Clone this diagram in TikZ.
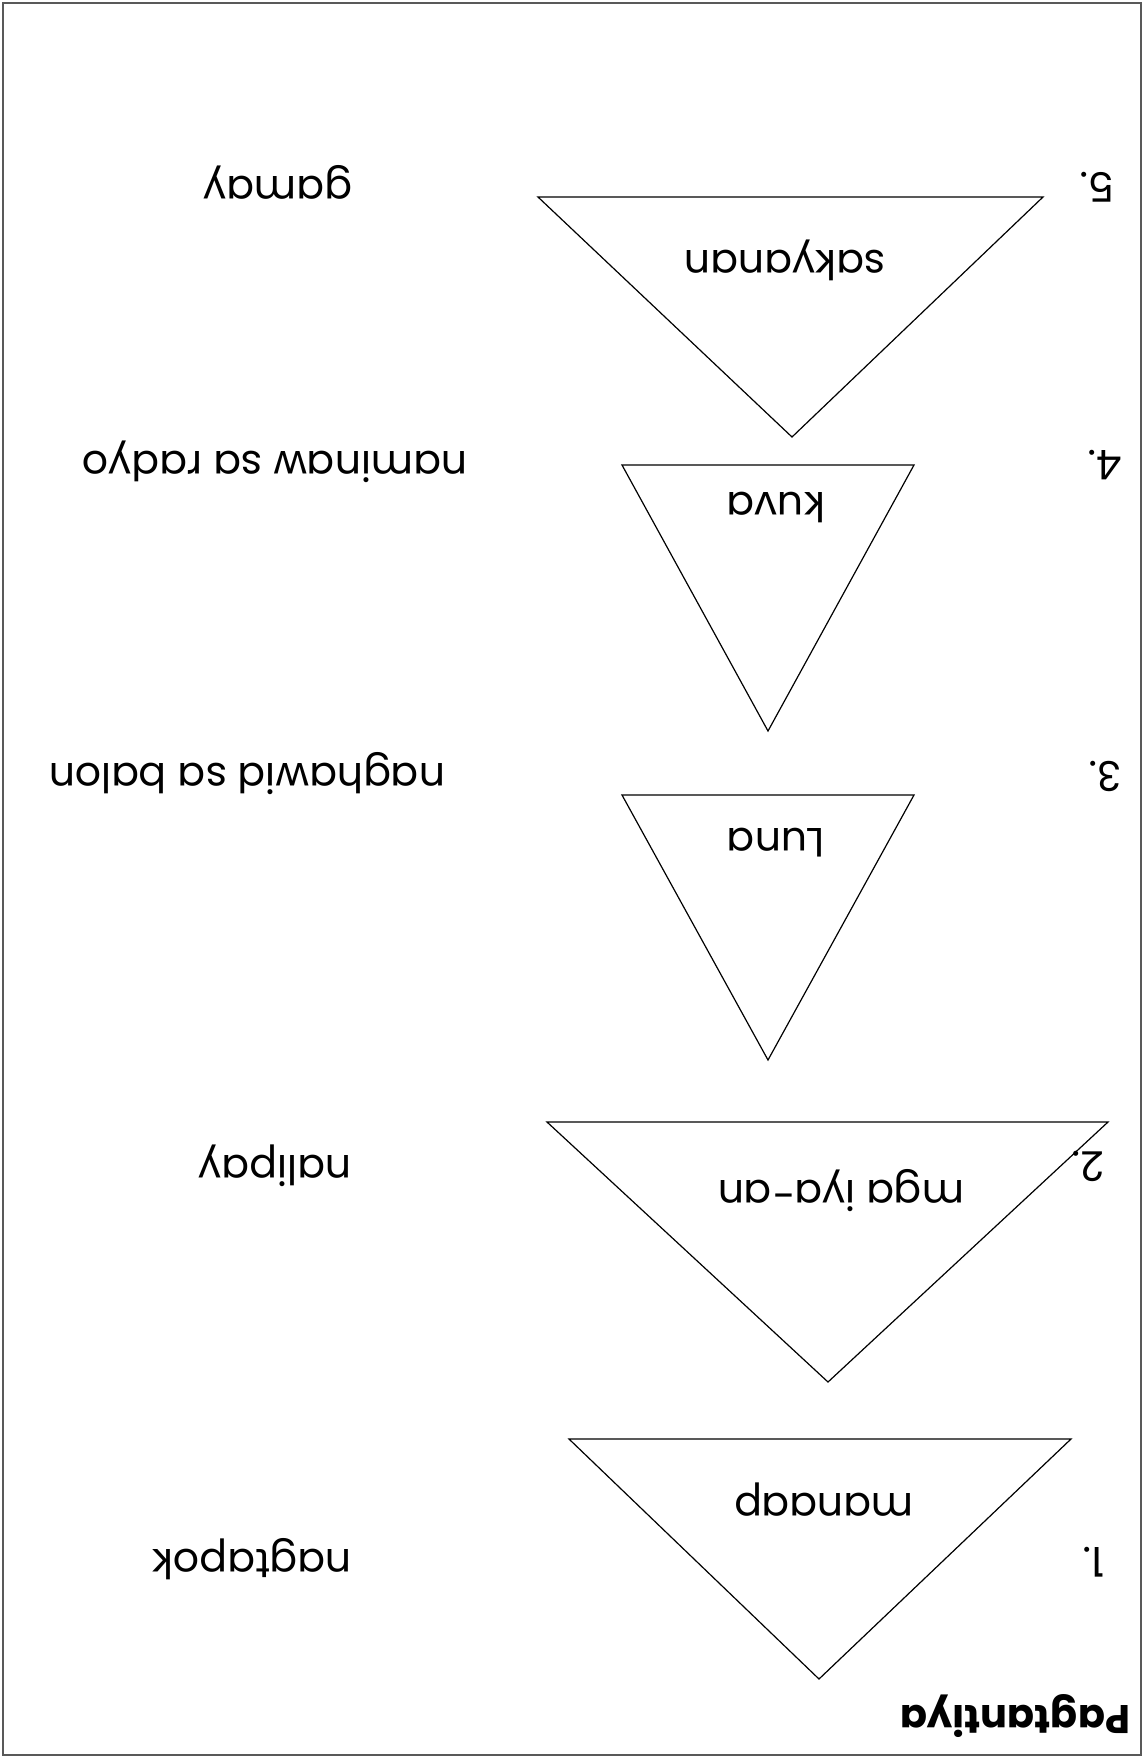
\documentclass[tikz,border=0pt]{standalone}
\usepackage{fontspec}
\setmainfont{Poppins}
\usepackage{tikz}
\usetikzlibrary{calc}

\tikzset{
    tri/.style={draw=black, line width=0.6pt, line join=miter},
    word/.style={rotate=180, inner sep=0pt, font=\fontsize{20.5}{24}\selectfont},
}

\begin{document}
\begin{tikzpicture}[x=0.5pt, y=-0.5pt]
    % Page frame
    \draw[line width=0.8pt, gray!70!black] (3,3) rectangle (1141,1755);
    \useasboundingbox (0,0) rectangle (1144,1758);

    % Triangles: top-left, top-right, apex
    \foreach \name/\yt/\xl/\xr/\xa/\ya in {
        one/1439/569/1071/819/1679,
        two/1122/547/1108/828/1382,
        three/795/622/914/768/1060,
        four/465/622/914/768/731,
        five/197/538/1043/792/437} {
        \coordinate (\name-l) at (\xl,\yt);
        \coordinate (\name-r) at (\xr,\yt);
        \coordinate (\name-a) at (\xa,\ya);
        \draw[tri] (\name-l) -- (\name-r) -- (\name-a) -- cycle;
    }

    % Words in the triangles
    \node[word] (w1) at (824,1500) {manaap};
    \node[word] (w2) at (841,1191) {mga iya-an};
    \node[word] (w3) at (776,843) {Luna};
    \node[word] (w4) at (776,507) {kuva};
    \node[word] (w5) at (785,260) {sakyanan};

    % Numbers
    \node[word] (n1) at (1094,1562) {1.};
    \node[word] (n2) at (1088,1166) {2.};
    \node[word] (n3) at (1105,776) {3.};
    \node[word] (n4) at (1105,465) {4.};
    \node[word] (n5) at (1097,187) {5.};

    % Answers
    \node[word] (a1) at (252,1559) {nagtapok};
    \node[word] (a2) at (275,1166) {nalipay};
    \node[word] (a3) at (247,774) {naghawid sa balon};
    \node[word] (a4) at (275,462) {naminaw sa radyo};
    \node[word] (a5) at (278,182) {gamay};

    % Title
    \node[word, font=\fontsize{20}{24}\selectfont\bfseries] (title) at (1015,1716) {Pagtantiya};
\end{tikzpicture}
\end{document}
